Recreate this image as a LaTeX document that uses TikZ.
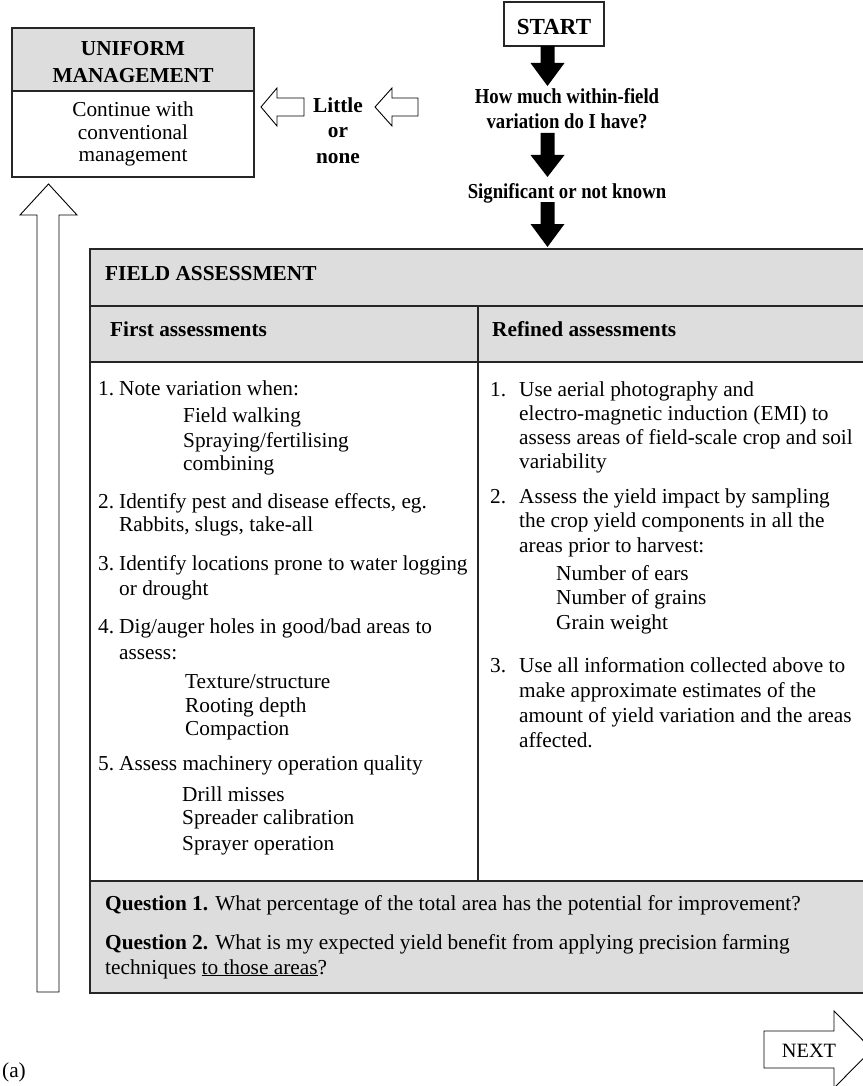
\documentclass[tikz,border=0pt]{standalone}
\usepackage{fontspec}
\setmainfont{Liberation Serif}
\newcommand\fsz{\fontsize{21.3}{24}\selectfont}
\newcommand\condensed[1]{\scalebox{0.88}[1]{#1}}
\definecolor{boxgray}{gray}{0.867}
\tikzset{
  ln/.style={anchor=west, inner sep=0pt, text height=0.7em, text depth=0.2em, font=\fsz, yshift=-4.5pt},
  lnb/.style={ln, font=\fsz\bfseries},
  ctr/.style={anchor=center, inner sep=0pt, text height=0.7em, text depth=0.2em, font=\fsz, yshift=-4.5pt},
  ctrb/.style={ctr, font=\fsz\bfseries},
  frame/.style={draw=black!85, line width=1.1pt},
  hollow/.style={draw=black, line width=0.9pt, fill=white, line join=miter},
  solid/.style={fill=black, draw=none},
}
\begin{document}
\begin{tikzpicture}[x=1pt,y=-1pt]
\useasboundingbox (0,0) rectangle (862,1086);

% ---- UNIFORM MANAGEMENT box
\path[frame, fill=boxgray] (12,28) rectangle (254,91);
\path[frame, fill=white] (12,91) rectangle (254,177);
\node[ctrb] (um1) at (133,49) {UNIFORM};
\node[ctrb] (um2) at (133,76) {MANAGEMENT};
\node[ctr] (c1) at (133,110) {Continue with};
\node[ctr] (c2) at (133,132.5) {conventional};
\node[ctr] (c3) at (133,155) {management};

% ---- Little or none
\node[ctrb] (l1) at (338,106) {Little};
\node[ctrb] (l2) at (338,131) {or};
\node[ctrb] (l3) at (338,157) {none};
\path[hollow] (304,98) -- (277,98) -- (277,88) -- (261,107) -- (277,126) -- (277,116) -- (304,116) -- cycle;
\path[hollow] (418,98) -- (392,98) -- (392,88) -- (375,107) -- (392,126) -- (392,116) -- (418,116) -- cycle;

% ---- START and decision chain
\path[frame] (504,2) rectangle (604,46);
\node[ctr, font=\fontsize{23}{24}\selectfont\bfseries] (start) at (554,28) {START};
\node[ctrb] (q1) at (567,97) {\condensed{How much within-field}};
\node[ctrb] (q2) at (567,122) {\condensed{variation do I have?}};
\node[ctrb] (sig) at (567,192) {\condensed{Significant or not known}};
\path[solid] (540.5,46) -- (554.5,46) -- (554.5,63) -- (564.5,63) -- (547.5,86) -- (530.5,63) -- (540.5,63) -- cycle;
\path[solid] (540.5,133) -- (554.5,133) -- (554.5,155) -- (564.5,155) -- (547.5,177) -- (530.5,155) -- (540.5,155) -- cycle;
\path[solid] (540.5,202) -- (554.5,202) -- (554.5,224) -- (564.5,224) -- (547.5,247) -- (530.5,224) -- (540.5,224) -- cycle;

% ---- up arrow on the left
\path[hollow] (37,992) -- (37,215) -- (20,215) -- (48.5,184) -- (77,215) -- (59,215) -- (59,992) -- cycle;

% ---- FIELD ASSESSMENT box
\path[fill=boxgray] (90,249) rectangle (870,362);
\path[fill=white] (90,362) rectangle (870,881);
\path[fill=boxgray] (90,881) rectangle (870,993);
\draw[frame] (90,249) rectangle (870,993);
\draw[frame] (90,306) -- (870,306);
\draw[frame] (90,362) -- (870,362);
\draw[frame] (90,881) -- (870,881);
\draw[frame] (478,306) -- (478,881);

\node[lnb] (fa) at (105,273) {FIELD ASSESSMENT};
\node[lnb] (fh) at (110,329) {First assessments};
\node[lnb] (rh) at (492,329) {Refined assessments};

% left column
\node[ln] at (98,388) {1.};
\node[ln] (a1) at (119,388) {Note variation when:};
\node[ln] at (183,415) {Field walking};
\node[ln] at (183,440) {Spraying/fertilising};
\node[ln] at (183,463) {combining};
\node[ln] at (98,501) {2.};
\node[ln] (a2) at (119,501) {Identify pest and disease effects, eg.};
\node[ln] at (119,524) {Rabbits, slugs, take-all};
\node[ln] at (98,563) {3.};
\node[ln] (a3) at (119,563) {Identify locations prone to water logging};
\node[ln] at (119,588) {or drought};
\node[ln] at (98,626) {4.};
\node[ln] (a4) at (119,626) {Dig/auger holes in good/bad areas to};
\node[ln] at (119,652) {assess:};
\node[ln] at (185,681) {Texture/structure};
\node[ln] at (185,705) {Rooting depth};
\node[ln] at (185,728) {Compaction};
\node[ln] at (98,763) {5.};
\node[ln] (a5) at (119,763) {Assess machinery operation quality};
\node[ln] at (182,794) {Drill misses};
\node[ln] at (182,817) {Spreader calibration};
\node[ln] at (182,843) {Sprayer operation};

% right column
\node[ln] at (490,389) {1.};
\node[ln] (b1) at (519,389) {Use aerial photography and};
\node[ln] at (519,413) {electro-magnetic induction (EMI) to};
\node[ln] at (519,437) {assess areas of field-scale crop and soil};
\node[ln] at (519,461) {variability};
\node[ln] at (490,496) {2.};
\node[ln] (b2) at (519,496) {Assess the yield impact by sampling};
\node[ln] at (519,520) {the crop yield components in all the};
\node[ln] at (519,545) {areas prior to harvest:};
\node[ln] at (556,573) {Number of ears};
\node[ln] at (556,597) {Number of grains};
\node[ln] at (556,622) {Grain weight};
\node[ln] at (490,665) {3.};
\node[ln] (b3) at (519,665) {Use all information collected above to};
\node[ln] at (519,690) {make approximate estimates of the};
\node[ln] at (519,715) {amount of yield variation and the areas};
\node[ln] at (519,740) {affected.};

% questions
\node[ln] (qq1) at (105,903) {\textbf{Question 1.} What percentage of the total area has the potential for improvement?};
\node[ln] (qq2) at (105,942) {\textbf{Question 2.} What is my expected yield benefit from applying precision farming};
\node[ln] (qq3) at (105,967) {techniques \underline{to those areas}?};

% ---- NEXT arrow
\path[hollow] (764,1031) -- (834,1031) -- (834,1011) -- (872,1049.5) -- (834,1088) -- (834,1068) -- (764,1068) -- cycle;
\node[ctr, font=\fontsize{20.3}{24}\selectfont] (next) at (809,1050) {NEXT};

% ---- caption
\node[ctr] (cap) at (14,1070) {(a)};
\end{tikzpicture}
\end{document}
